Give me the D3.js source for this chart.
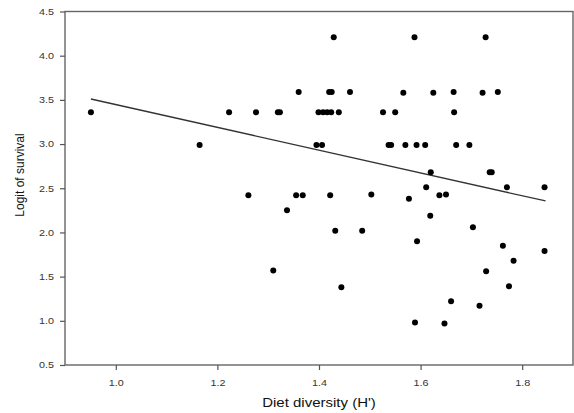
<!DOCTYPE html>
<html>
<head>
<meta charset="utf-8">
<script src="https://cdn.jsdelivr.net/npm/d3@7"></script>
<style>
  html, body { margin: 0; padding: 0; background: #fff; }
  svg { display: block; }
  text { font-family: Arial, "Liberation Sans", sans-serif; }
</style>
</head>
<body>
<div id="chart"></div>
<script>
// values
const dietDiversity = [
  0.951, 1.165, 1.223, 1.261, 1.276, 1.319, 1.323, 1.310, 1.337, 1.355,
  1.368, 1.360, 1.395, 1.406, 1.399, 1.408, 1.416, 1.424, 1.439, 1.420,
  1.425, 1.429, 1.422, 1.432, 1.444, 1.461, 1.485, 1.503, 1.526, 1.550,
  1.537, 1.542, 1.566, 1.570, 1.577, 1.588, 1.589, 1.592, 1.593, 1.609,
  1.611, 1.619, 1.620, 1.625, 1.637, 1.650, 1.647, 1.660, 1.665, 1.666,
  1.670, 1.696, 1.703, 1.716, 1.722, 1.728, 1.729, 1.736, 1.740, 1.752,
  1.762, 1.770, 1.774, 1.783, 1.844, 1.844
];
const logitSurvival = [
  3.36, 2.99, 3.36, 2.42, 3.36, 3.36, 3.36, 1.57, 2.25, 2.42,
  2.42, 3.59, 2.99, 2.99, 3.36, 3.36, 3.36, 3.36, 3.36, 3.59,
  3.59, 4.21, 2.42, 2.02, 1.38, 3.59, 2.02, 2.43, 3.36, 3.36,
  2.99, 2.99, 3.58, 2.99, 2.38, 4.21, 0.98, 2.99, 1.90, 2.99,
  2.51, 2.19, 2.68, 3.58, 2.42, 2.43, 0.97, 1.22, 3.59, 3.36,
  2.99, 2.99, 2.06, 1.17, 3.58, 4.21, 1.56, 2.68, 2.68, 3.59,
  1.85, 2.51, 1.39, 1.68, 2.51, 1.79
];
// regression line end points
const fitX = [0.951, 1.846];
const fitY = [3.51, 2.356];

const xTicks = [1.0, 1.2, 1.4, 1.6, 1.8];
const yTicks = [0.5, 1.0, 1.5, 2.0, 2.5, 3.0, 3.5, 4.0, 4.5];

const W = 574, H = 413;
const plot = { left: 65, right: 573, top: 11.5, bottom: 365 };
const stretch = 1.2; // the reference text is a bit wider than it is tall

const svg = d3.select("#chart").append("svg")
  .attr("width", W)
  .attr("height", H);

const x = d3.scaleLinear().domain([0.9, 1.9]).range([plot.left, plot.right]);
const y = d3.scaleLinear().domain([0.5, 4.5]).range([plot.bottom, plot.top]);
const fmt = d3.format(".1f");

// frame
svg.append("rect")
  .attr("x", plot.left).attr("y", plot.top)
  .attr("width", plot.right - plot.left).attr("height", plot.bottom - plot.top)
  .attr("fill", "none")
  .attr("stroke", "#666")
  .attr("stroke-width", 1.4);

const gx = svg.append("g")
  .attr("transform", `translate(0,${plot.bottom})`)
  .call(d3.axisBottom(x).tickValues(xTicks).tickFormat(fmt).tickSize(5).tickPadding(10));

const gy = svg.append("g")
  .attr("transform", `translate(${plot.left},0)`)
  .call(d3.axisLeft(y).tickValues(yTicks).tickFormat(fmt).tickSize(5).tickPadding(6));

[gx, gy].forEach(g => {
  g.select(".domain").remove();
  g.selectAll(".tick line").attr("stroke", "#555").attr("stroke-width", 1.2);
  g.selectAll(".tick text")
    .attr("fill", "#333")
    .attr("font-size", "9px")
    .attr("font-family", "Arial, 'Liberation Sans', sans-serif");
});
gx.selectAll(".tick text").attr("transform", `scale(${stretch},1)`);
gy.selectAll(".tick text")
  .attr("x", -11 / stretch)
  .attr("transform", `scale(${stretch},1)`);

// regression line
svg.append("path")
  .datum(d3.zip(fitX, fitY))
  .attr("fill", "none")
  .attr("stroke", "#333")
  .attr("stroke-width", 1.3)
  .attr("d", d3.line().x(d => x(d[0])).y(d => y(d[1])));

// points
svg.append("g")
  .selectAll("circle")
  .data(d3.zip(dietDiversity, logitSurvival))
  .enter().append("circle")
  .attr("cx", d => x(d[0]))
  .attr("cy", d => y(d[1]))
  .attr("r", 3)
  .attr("fill", "#000");

// axis titles
svg.append("text")
  .attr("transform", `translate(${(plot.left + plot.right) / 2},406.5) scale(${stretch},1)`)
  .attr("text-anchor", "middle")
  .attr("font-size", "12.5px")
  .attr("fill", "#111")
  .text("Diet diversity (H')");

svg.append("text")
  .attr("transform", `translate(24,175) scale(1.05,1) rotate(-90)`)
  .attr("text-anchor", "middle")
  .attr("font-size", "12px")
  .attr("fill", "#111")
  .text("Logit of survival");
</script>
</body>
</html>
